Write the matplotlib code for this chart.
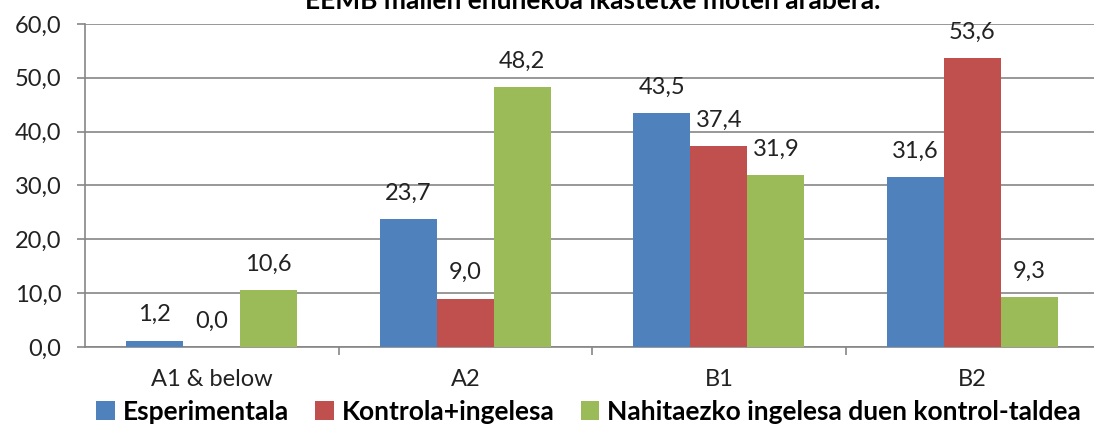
import numpy as np
import matplotlib.pyplot as plt

categories = ["A1 & below", "A2", "B1", "B2"]
esperimentala = [1.2, 23.7, 43.5, 31.6]
kontrola_ingelesa = [0.0, 9.0, 37.4, 53.6]
nahitaezko = [10.6, 48.2, 31.9, 9.3]
series_names = ["Esperimentala", "Kontrola+ingelesa",
                "Nahitaezko ingelesa duen kontrol-taldea"]
colors = ["#4F81BD", "#C0504D", "#9BBB59"]

plt.rcParams['font.family'] = ['Lato', 'DejaVu Sans']

fig = plt.figure(figsize=(10.94, 4.28), dpi=100)
ax = fig.add_axes([0.0777, 0.1893, 0.927, 0.7547])

x = np.arange(len(categories))
w = 0.225
for k, (vals, name, col) in enumerate(zip([esperimentala, kontrola_ingelesa, nahitaezko],
                                           series_names, colors)):
    pos = x + (k - 1) * w
    ax.bar(pos, vals, width=w, color=col, label=name, zorder=3)
    for p, v in zip(pos, vals):
        ax.annotate(f"{v:.1f}".replace(".", ","), (p, v), xytext=(0, 11),
                    textcoords="offset points", ha="center", va="bottom",
                    fontsize=17, color="#222222")

ax.set_xlim(-0.5, 3.5)
ax.set_ylim(0, 60)
ax.set_yticks(np.arange(0, 61, 10))
ax.set_yticklabels([f"{v:.1f}".replace(".", ",") for v in np.arange(0, 61, 10)])
ax.yaxis.grid(True, color="#868686", linewidth=1.2, zorder=0)
ax.set_xticks(x)
ax.set_xticklabels(categories)
ax.set_xticks([0.5, 1.5, 2.5], minor=True)
ax.tick_params(axis="x", which="major", length=0, pad=16, labelsize=17, labelcolor="#222222")
ax.tick_params(axis="x", which="minor", length=6, color="#868686", width=1.2)
ax.tick_params(axis="y", length=6, color="#868686", width=1.2, labelsize=17,
               pad=11, labelcolor="#222222")
for s in ["top", "right"]:
    ax.spines[s].set_visible(False)
for s in ["left", "bottom"]:
    ax.spines[s].set_color("#868686")
    ax.spines[s].set_linewidth(1.2)

# title sits partly above the top edge, as in the source image
fig.text(0.542, 0.978, "EEMB mailen ehunekoa ikastetxe moten arabera.",
         ha="center", va="baseline", fontsize=19, fontweight="bold")

fig.legend(loc="lower center", bbox_to_anchor=(0.538, -0.045), ncol=3,
           frameon=False, handlelength=0.7, handleheight=0.7,
           handletextpad=0.3, columnspacing=1.0, prop={"weight": "bold", "size": 19})

fig.savefig("out.png", dpi=100)
